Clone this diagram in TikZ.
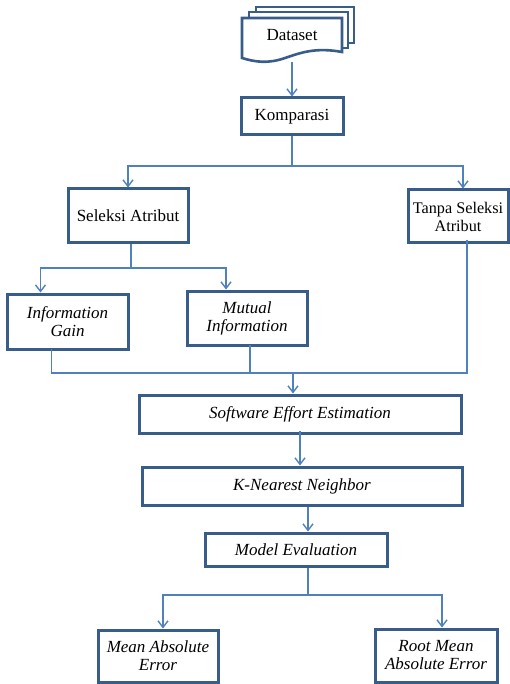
\documentclass[tikz,border=0pt]{standalone}
\usepackage{fontspec}
\setmainfont{Liberation Serif}
\usetikzlibrary{arrows.meta,calc}
\definecolor{linec}{HTML}{4F81BD}
\definecolor{boxc}{HTML}{385D8A}
\begin{document}
\begin{tikzpicture}[x=1pt,y=-1pt,
 txt/.style={font=\fontsize{17}{18}\selectfont},
 itxt/.style={font=\fontsize{17}{18}\selectfont\itshape},
 box/.style={draw=boxc,line width=3pt,fill=white,align=center,inner sep=1pt,line join=miter,txt},
 page/.style={draw=boxc,line width=2.6pt,fill=white,line join=miter},
 conn/.style={draw=linec,line width=1.6pt},
 arr/.style={conn,-{Straight Barb[length=6.5pt,width=10pt,line width=1.4pt]}},
]
\useasboundingbox (0,0) rectangle (510,684);
% Dataset (multi-document)
\draw[page] (256,7) rectangle (354,43);
\draw[page] (249,12) rectangle (348,48);
\draw[page] (242,18) -- (342,18) -- (342,52) .. controls (315,47) and (300,53) .. (285,58)
  .. controls (268,64) and (255,62) .. (242,58) -- cycle;
\node[minimum width=100pt,minimum height=44pt,inner sep=0pt] (data) at (292,40) {};
\node[txt] at (292,35) {Dataset};

\node[box,minimum width=102pt,minimum height=37pt] (komp) at (292,116.5) {Komparasi};
\node[box,minimum width=120pt,minimum height=54pt] (sel) at (128,216) {Seleksi Atribut};
\node[box,minimum width=100pt,minimum height=53pt,font=\fontsize{16.2}{18}\selectfont] (tanpa) at (458,216.5) {Tanpa Seleksi\\Atribut};
\node[box,itxt,minimum width=121pt,minimum height=55pt] (ig) at (67.5,321.5) {Information\\Gain};
\node[box,itxt,minimum width=120pt,minimum height=54pt] (mi) at (247,318) {Mutual\\Information};
\node[box,itxt,minimum width=322pt,minimum height=38pt] (see) at (300,414) {Software Effort Estimation};
\node[box,itxt,minimum width=320pt,minimum height=38pt] (knn) at (302,486) {K-Nearest Neighbor};
\node[box,itxt,minimum width=182pt,minimum height=33pt] (me) at (296,549.5) {Model Evaluation};
\node[box,itxt,minimum width=120pt,minimum height=52pt] (mae) at (158,656) {Mean Absolute\\Error};
\node[box,itxt,minimum width=122pt,minimum height=53pt] (rmae) at (436,655.5) {Root Mean\\Absolute Error};

% connectors
\draw[arr] (data.south) -- (komp.north);
\coordinate (j1) at (292,166);
\draw[conn] (komp.south) -- (j1);
\draw[arr] (j1) -| (sel.north);
\draw[arr] (j1) -| ([xshift=5pt]tanpa.north);

\coordinate (j2) at (131,268);
\draw[conn] ([xshift=3pt]sel.south) -- (j2);
\draw[arr] (j2) -| ([xshift=-27pt]ig.north);
\draw[arr] (j2) -| ([xshift=-21pt]mi.north);

\coordinate (j3) at (293,373);
\draw[conn] ([xshift=-16pt,yshift=2pt]ig.south) |- (j3);
\draw[conn] ([xshift=3pt,yshift=2pt]mi.south) -- ++(0,29);
\draw[conn] ([xshift=9pt,yshift=4pt]tanpa.south) |- (j3);
\draw[arr] (j3) -- (see.north -| j3);

\coordinate (k1) at ([yshift=4pt]see.south);
\draw[arr] (k1) -- (knn.north -| k1);
\coordinate (k2) at ([xshift=6pt]knn.south);
\draw[arr] (k2) -- (me.north -| k2);
\coordinate (j4) at (308,595);
\draw[conn] ([xshift=12pt]me.south) -- (j4);
\draw[arr] (j4) -| ([xshift=5pt]mae.north);
\draw[arr] (j4) -| ([xshift=6pt]rmae.north);
\end{tikzpicture}
\end{document}
